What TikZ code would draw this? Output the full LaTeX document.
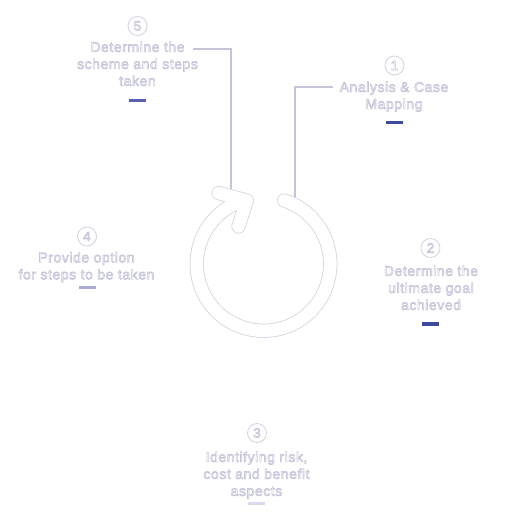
\documentclass[tikz,border=0pt]{standalone}
\usepackage{fontspec}
\setmainfont[LetterSpace=4]{Liberation Sans}
\definecolor{edge}{HTML}{D2D3E1}
\definecolor{wire}{HTML}{C4C5D9}
\definecolor{barA}{HTML}{3F4A9C}
\definecolor{barB}{HTML}{5A60AB}
\definecolor{barC}{HTML}{A9ABD4}
\definecolor{barD}{HTML}{D9DAEC}
\newcommand{\outl}[1]{\special{pdf:literal direct 2 Tr 0.65 w 0.78 0.78 0.86 RG}#1\special{pdf:literal direct 0 Tr}}

\begin{document}
\begin{tikzpicture}[x=1pt, y=-1pt,
    badge/.style ={circle, draw=edge, thick, fill=white, minimum size=19pt, inner sep=0pt,
      text=white, font=\fontsize{13.5}{14}\selectfont},
    stepnote/.style ={align=center, anchor=north, inner sep=0pt, text=white,
      font=\fontsize{14}{17}\selectfont},
    tickbar/.style ={rectangle, minimum width=17pt, minimum height=3.6pt, inner sep=0pt},
    link/.style ={draw=wire, line width=1.5pt}]
   \path[fill=white] (0,0) rectangle (512,521);
   \useasboundingbox (0,0) rectangle (512,521);
   % steps
   \node[badge] (n1) at (394.5,65.5) {\outl{1}};
   \node[stepnote] (t1) at (394,81.5) {\outl{Analysis \& Case\\Mapping}};
   \node[tickbar, fill=barA] (b1) at (394,122.5) {};
   \node[badge] (n2) at (430.5,248) {\outl{2}};
   \node[stepnote] (t2) at (431,265.5) {\outl{Determine the\\ultimate goal\\achieved}};
   \node[tickbar, fill=barA] (b2) at (430.5,324) {};
   \node[badge] (n3) at (257,433) {\outl{3}};
   \node[stepnote] (t3) at (256.5,451.5) {\outl{Identifying risk,\\cost and benefit\\aspects}};
   \node[tickbar, fill=barD] (b3) at (256.5,503.5) {};
   \node[badge] (n4) at (87,236.5) {\outl{4}};
   \node[stepnote] (t4) at (86.5,252) {\outl{Provide option\\for steps to be taken}};
   \node[tickbar, fill=barC] (b4) at (87,287.5) {};
   \node[badge] (n5) at (137.5,26) {\outl{5}};
   \node[stepnote] (t5) at (137.5,41.5) {\outl{Determine the\\scheme and steps\\taken}};
   \node[tickbar, fill=barB] (b5) at (137.5,100.5) {};
   % links to the cycle
   \coordinate (s1) at (333,87);
   \coordinate (e1) at (295,199);
   \coordinate (s5) at (193,49);
   \coordinate (e5) at (231,189);
   \draw[link] (s1) -| (e1);
   \draw[link] (s5) -| (e5);
   % cycle arrow
   \coordinate (O) at (263.5,264);
   \foreach \w/\c in {14.2pt/edge, 12.6pt/white}{
     \draw[line width=\w, draw=\c, line cap=round, line join=round]
       (O) ++(-72:66.75) arc[start angle=-72, end angle=245, radius=66.75];
     \draw[line width=\w, draw=\c, line cap=round, line join=round]
       (218.5,193) -- (246.8,200.6) -- (238.5,226.5);
   }
 \end{tikzpicture}
\end{document}
